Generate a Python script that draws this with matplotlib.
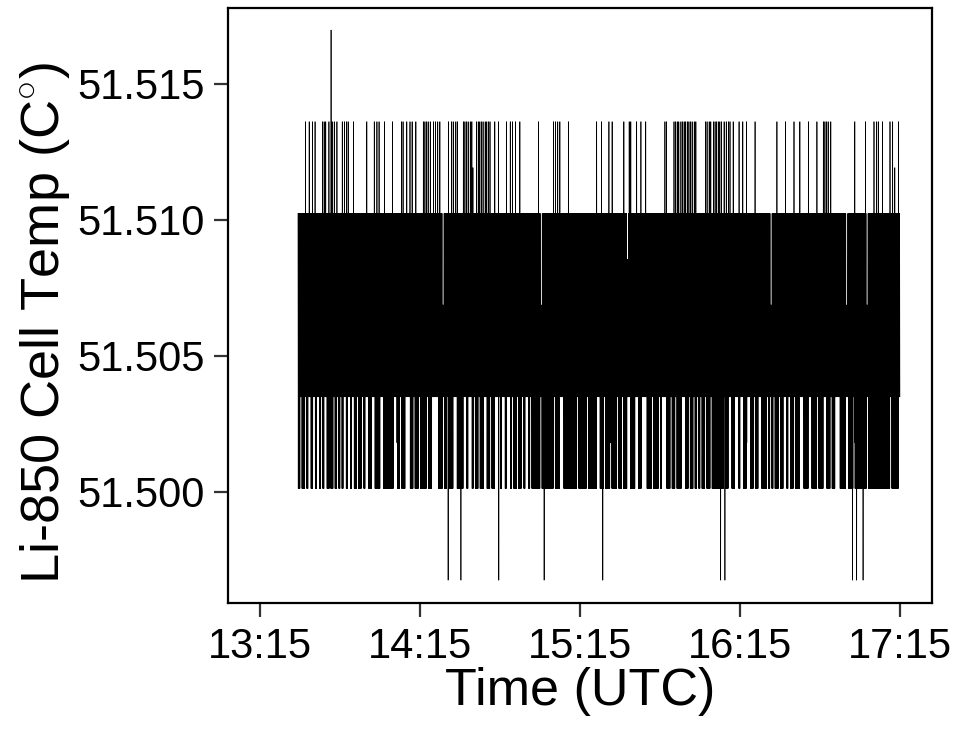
import numpy as np
import matplotlib
matplotlib.use("Agg")
import matplotlib.pyplot as plt

# ---------------- data (times in minutes after 13:15 UTC) ----------------
start_min = 14.25
end_min = 240.0
sample_step_min = 0.1

band_low = 51.50350
band_mid = 51.50687
band_high = 51.51024
level_low = 51.50013
level_low_half = 51.50181
level_high_half = 51.51192
level_high = 51.51361
level_ext_low = 51.49676
level_ext_high = 51.51698

up_spikes = [17.1, 18.4, 19.6, 20.6, 23.4, 24.1, 24.6, 25.9, 27.1, 27.9, 28.8, 30.9, 31.6,
             32.5, 33.1, 35.0, 40.0, 42.9, 43.8, 44.6, 46.6, 49.6, 53.1, 53.7, 55.0, 56.3,
             57.1, 58.5, 61.2, 61.9, 62.5, 63.1, 63.8, 65.0, 65.9, 66.6, 67.5, 70.6, 71.9,
             72.5, 73.4, 74.1, 76.2, 76.9, 77.5, 78.1, 78.8, 79.4, 81.3, 81.9, 82.5, 83.1,
             83.7, 84.4, 85.0, 85.6, 86.3, 88.1, 89.4, 92.5, 93.8, 94.6, 95.9, 97.5, 104.4,
             110.0, 110.9, 111.6, 112.5, 115.6, 126.3, 128.1, 130.9, 132.1, 136.5, 138.5,
             139.0, 141.3, 142.8, 144.6, 151.9, 152.5, 155.3, 155.9, 156.5, 157.1, 157.8,
             158.4, 159.0, 159.6, 160.2, 160.9, 161.5, 162.1, 162.8, 163.4, 167.1, 167.7,
             168.4, 169.0, 170.0, 170.6, 171.3, 171.9, 172.5, 173.1, 174.0, 174.8, 175.6,
             176.3, 177.5, 179.7, 181.0, 182.5, 185.6, 193.8, 197.1, 200.3, 202.5, 205.6,
             208.8, 211.2, 211.9, 212.5, 213.1, 214.0, 223.1, 227.1, 230.3, 231.3, 231.9,
             233.4, 236.3, 237.3, 239.4]
ext_up_spikes = [26.6]
half_up_spikes = [79.8, 238.1]

down_starts = [14.25, 15.6, 17.5, 19.0, 20.6, 22.25, 23.4, 25.0, 26.5, 28.1, 29.4, 30.6, 32.25,
               33.75, 35.25, 36.9, 38.75, 40.6, 43.1, 46.25, 51.25, 53.1, 56.25, 58.1, 60.0,
               63.1, 66.9, 70.6, 73.75, 77.5, 79.4, 80.6, 82.5, 85.0, 86.9, 90.0, 91.9, 93.75,
               95.0, 96.9, 98.75, 100.6, 101.9, 110.6, 113.75, 119.4, 123.1,
               127.5, 129.4, 131.9, 134.4, 136.25, 138.75, 141.9, 145.0, 147.5, 150.0, 152.5,
               154.4, 156.25, 159.4, 161.25, 163.1, 164.4, 165.6, 167.5, 169.4, 174.4, 176.9,
               179.4, 181.25, 183.75, 185.6, 188.1, 190.6, 193.1, 195.0, 197.5, 198.75, 200.6,
               203.75, 206.9, 209.4, 212.5, 214.4, 217.5, 220.6, 223.1, 236.9]
down_ends = [15.0, 16.9, 18.1, 19.75, 21.25, 22.75, 24.0, 26.0, 27.5, 28.75, 30.0, 31.25, 32.75,
             34.4, 36.25, 38.1, 39.4, 41.9, 45.0, 50.0, 52.5, 54.4, 57.5, 59.4, 62.5,
             64.4, 70.0, 72.5, 76.25, 78.1, 80.0, 81.9, 83.75, 86.25, 88.1, 90.6, 92.5, 94.4,
             96.25, 98.1, 99.4, 101.25, 110.0, 112.5, 118.75, 122.5, 126.25,
             128.75, 131.25, 133.75, 135.6, 138.1, 140.6, 143.1, 146.9, 149.4, 150.6, 153.75,
             155.6, 158.1, 160.6, 162.5, 163.75, 165.0, 166.9, 168.75, 173.75, 175.6, 178.1,
             180.0, 182.5, 185.0, 186.9, 190.0, 192.5, 194.4, 196.25, 198.1, 200.0, 202.5,
             205.6, 208.75, 211.25, 213.75, 215.6, 220.0, 222.5, 236.25, 239.4]
ext_down_spikes = [70.6, 75.3, 89.6, 106.6, 128.5, 172.8, 174.4, 222.1, 223.8, 226.2]
half_down_spikes = [51.3, 131.6, 182.5, 201.3, 222.9]

gap_times = [68.7, 105.4, 137.9, 191.6, 220.0, 227.7]
gap_tops = [51.50687, 51.50687, 51.50855, 51.50687, 51.50687, 51.50687]

x_tick_hours = [13.25, 14.25, 15.25, 16.25, 17.25]
x_tick_labels = ["13:15", "14:15", "15:15", "16:15", "17:15"]
y_ticks = [51.500, 51.505, 51.510, 51.515]
y_tick_labels = ["51.500", "51.505", "51.510", "51.515"]

# ---------------- build series ----------------
t = np.arange(start_min, end_min + 1e-9, sample_step_min)
idx = np.arange(len(t))
vals = np.where(idx % 2 == 0, band_high, band_low).astype(float)
even = idx % 2 == 0
odd = ~even

for a, b in zip(down_starts, down_ends):
    m = (t >= a) & (t <= b) & odd
    vals[m] = level_low


def nearest(time, parity_mask):
    cand = np.where(parity_mask)[0]
    return cand[np.argmin(np.abs(t[cand] - time))]


for g, top in zip(gap_times, gap_tops):
    m = (np.abs(t - g) <= 0.3) & even
    vals[m] = top
    m2 = (np.abs(t - g) <= 0.3) & odd
    vals[m2] = band_low
for s in up_spikes:
    vals[nearest(s, even)] = level_high
for s in ext_up_spikes:
    vals[nearest(s, even)] = level_ext_high
for s in half_up_spikes:
    vals[nearest(s, even)] = level_high_half
for s in ext_down_spikes:
    vals[nearest(s, odd)] = level_ext_low
for s in half_down_spikes:
    vals[nearest(s, odd)] = level_low_half

hours = 13.25 + t / 60.0

# ---------------- plot ----------------
plt.rcParams['font.family'] = ['Liberation Sans', 'DejaVu Sans']
plt.rcParams['mathtext.fontset'] = 'custom'
plt.rcParams['mathtext.rm'] = 'Liberation Sans'

W, H = 956, 731
fig = plt.figure(figsize=(W / 100, H / 100), dpi=100)
ax = fig.add_axes([228 / W, 1 - 603 / H, (932 - 228) / W, (603 - 8) / H])

ax.plot(hours, vals, color='black', lw=0.5, antialiased=True)

ax.set_xlim(13.05, 17.45)
ax.set_ylim(51.49592, 51.51779)
ax.set_xticks(x_tick_hours)
ax.set_xticklabels(x_tick_labels)
ax.set_yticks(y_ticks)
ax.set_yticklabels(y_tick_labels)

for sp in ax.spines.values():
    sp.set_color('black')
    sp.set_linewidth(1.6)

ax.tick_params(axis='both', which='major', direction='out', length=10, width=1.6,
               color='#333333', labelsize=30, labelcolor='black', pad=7)

ax.set_xlabel('Time (UTC)', fontsize=37.5, labelpad=0)
ax.set_ylabel(r'Li-850 Cell Temp (C$^{\circ}$)', fontsize=39)
ax.yaxis.set_label_coords(-0.222, 0.47)

fig.savefig('out.png', dpi=100, facecolor='white')
